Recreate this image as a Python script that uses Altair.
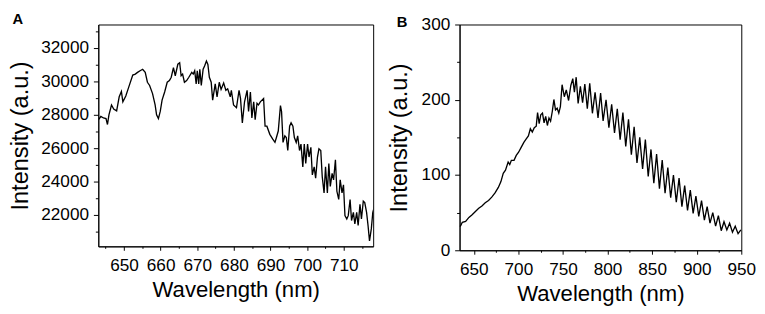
import altair as alt
import pandas as pd

# ---------------- Panel A data ----------------
a_wl = [643.05, 643.7, 644.4, 645.1, 645.5, 645.9, 646.6, 647.2, 648.0, 648.7, 649.3, 649.7,
        650.5, 651.3, 652.4, 653.1, 653.7, 654.4, 655.1, 655.8, 656.4, 657.0, 657.8, 658.5,
        658.9, 659.4, 659.9, 660.4, 661.1, 661.8, 662.4, 662.9, 663.5, 664.0, 664.7, 665.2,
        665.6, 666.0, 666.5, 667.1, 667.7, 668.5, 668.9, 669.3, 669.7, 670.0, 670.4, 670.7,
        671.1, 671.6, 672.0, 672.5, 672.9, 673.3, 673.8, 674.2, 674.9, 675.4, 676.0, 676.5,
        677.2, 677.8, 678.3, 679.0, 679.3, 679.9, 680.7, 681.4, 681.8, 682.3, 682.9, 683.6,
        684.0, 684.5, 684.9, 685.4, 685.8, 686.3, 686.7, 687.2, 688.1, 688.5, 689.0, 689.8,
        690.6, 691.2, 691.6, 692.1, 692.7, 693.0, 693.4, 693.9, 694.3, 694.7, 695.2, 695.6,
        696.1, 696.5, 697.0, 697.4, 697.9, 698.3, 698.8, 699.2, 699.6, 700.1, 700.5, 701.0,
        701.4, 701.9, 702.3, 702.8, 703.2, 703.7, 704.1, 704.6, 705.0, 705.5, 705.9, 706.3,
        706.8, 707.2, 707.7, 708.1, 708.6, 709.0, 709.5, 709.9, 710.3, 710.8, 711.2, 711.7,
        712.1, 712.6, 713.0, 713.5, 713.9, 714.4, 714.8, 715.3, 715.7, 716.2, 716.6, 717.0,
        717.5, 717.9, 718.4]
a_int = [27710, 27900, 27810, 27770, 27420, 28000, 28590, 28350, 28240, 29080, 29400, 28780,
         29130, 29660, 30380, 30440, 30540, 30640, 30730, 30540, 29950, 29760, 29270, 28590,
         28000, 27770, 28200, 28880, 29370, 29950, 30050, 30250, 30830, 30340, 31030, 31120,
         30340, 30440, 29950, 30050, 30250, 30540, 30440, 30640, 29850, 30640, 29850, 30730,
         29760, 30730, 30930, 31220, 31020, 30250, 29950, 28880, 29850, 29080, 29950, 29520,
         29910, 29470, 29560, 29080, 29470, 28590, 28430, 29470, 28980, 27520, 28780, 29470,
         28200, 29370, 27810, 28780, 27710, 28690, 28590, 28780, 28980, 27320, 27320, 26830,
         26540, 26350, 26640, 27030, 28550, 28200, 26350, 26740, 26640, 25860, 27320, 27520,
         27320, 26640, 26350, 26740, 25860, 26250, 24880, 26250, 25080, 26250, 25470, 26050,
         24400, 24880, 24200, 25470, 25960, 25860, 24300, 23320, 24880, 23320, 25080, 23710,
         24490, 24100, 25310, 23420, 22930, 24100, 23320, 23810, 21960, 21760, 21960, 22930,
         21670, 22160, 21470, 22160, 21370, 22640, 21760, 22830, 22740, 22160, 21370, 20440,
         21180, 22160, 22550]

# ---------------- Panel B data ----------------
b_wl = [634.2, 635.3, 637.1, 640.8, 644.5, 648.1, 651.8, 655.5, 659.1, 662.8, 666.5, 670.1,
        673.8, 677.5, 680.4, 683.0, 685.5, 688.5, 690.3, 692.1, 695.1, 697.6, 700.2, 703.1,
        706.1, 708.6, 711.2, 713.4, 715.6, 717.8, 720.0, 721.5, 723.3, 725.1, 727.0, 728.8,
        730.6, 732.5, 734.3, 736.1, 738.0, 739.8, 741.6, 743.5, 745.3,
        747.1, 749.0, 751.5, 753.7, 756.3, 758.8, 761.0, 762.8, 764.8, 767.0, 769.5, 772.0,
        774.5, 777.3, 780.0, 783.0, 786.0, 789.3, 792.2, 795.0,
        798.3, 801.5, 804.6, 807.8, 810.9, 814.1, 817.2, 820.4, 823.5, 826.7, 829.8, 833.0,
        836.1, 839.3, 842.4, 845.6, 848.7, 851.9, 855.0, 858.2, 861.3, 864.5, 867.6, 870.8,
        873.9, 877.1, 880.2, 883.4, 886.5, 889.7, 892.8, 896.0, 899.1, 902.3, 905.4, 908.6,
        911.7, 914.9, 918.0, 921.2, 924.3, 927.5, 930.6, 933.8, 936.9, 940.1, 943.2, 946.4,
        949.5]
b_int = [31.5, 32.9, 37.2, 38.5, 43.7, 47.2, 51.5, 55.8, 58.9, 63.2, 66.2, 70.6,
         76.2, 83.5, 91.3, 102.2, 106.5, 117.3, 113.9, 119.5, 119.5, 126.0, 130.3, 136.8,
         143.3, 147.6, 152.0, 161.5, 157.1, 162.8, 164.9, 183.1, 168.4, 180.1, 182.3, 169.3,
         177.9, 165.8, 175.8, 171.5, 184.4, 200.4, 186.6, 188.7, 182.3,
         191.0, 220.0, 204.0, 213.0, 199.0, 219.0, 228.0, 210.0, 230.0, 195.0, 218.0, 196.0,
         221.0, 188.0, 222.0, 182.0, 210.0, 176.0, 209.0, 172.0,
         200.0, 163.0, 194.0, 156.0, 188.0, 147.0, 183.0, 138.0, 174.0, 127.0, 164.0, 116.0,
         150.0, 108.0, 147.0, 98.0, 134.0, 89.0, 128.0, 82.0, 120.0, 76.0, 110.0, 70.0,
         100.0, 64.0, 96.0, 58.0, 86.0, 53.0, 80.0, 49.0, 72.0, 45.0, 66.0, 40.0,
         58.0, 36.0, 50.0, 32.0, 46.0, 26.0, 38.0, 27.0, 36.0, 24.0, 32.0, 22.0,
         27.0]

# ---------------- Axis ticks ----------------
a_x_major = [650, 660, 670, 680, 690, 700, 710]
a_x_minor = [645, 655, 665, 675, 685, 695, 705, 715]
a_y_major = [22000, 24000, 26000, 28000, 30000, 32000]
a_y_minor = [21000, 23000, 25000, 27000, 29000, 31000, 33000]
b_x_major = [650, 700, 750, 800, 850, 900, 950]
b_x_minor = [675, 725, 775, 825, 875, 925]
b_y_major = [0, 100, 200, 300]
b_y_minor = [50, 150, 250]

FONT = "Liberation Sans"
X_TITLE = "Wavelength (nm)"
Y_TITLE = "Intensity (a.u.)"


def panel(wl, inten, xdom, ydom, xmaj, xmin, ymaj, ymin, w, h, label, lx, ly, ytp):
    df = pd.DataFrame({"wl": wl, "val": inten})
    base = alt.Chart(df)
    xs = alt.Scale(domain=xdom, nice=False, zero=False)
    ys = alt.Scale(domain=ydom, nice=False, zero=False)
    main = base.mark_line(color="black", strokeWidth=1.35, clip=True).encode(
        x=alt.X("wl:Q", scale=xs,
                axis=alt.Axis(values=xmaj, title=X_TITLE, orient="bottom", tickSize=4,
                              labelPadding=7, titlePadding=5, titleFontSize=22.5,
                              labelFlush=False, labelOverlap=False)),
        y=alt.Y("val:Q", scale=ys,
                axis=alt.Axis(values=ymaj, title=Y_TITLE, orient="left", tickSize=5,
                              labelPadding=5, titlePadding=ytp, titleFontSize=24,
                              format="d", labelFlush=False, labelOverlap=False)),
    )
    minor = base.mark_line(opacity=0, clip=True).encode(
        x=alt.X("wl:Q", scale=xs,
                axis=alt.Axis(values=xmin, labels=False, title=None, orient="bottom",
                              tickSize=2, domain=False)),
        y=alt.Y("val:Q", scale=ys,
                axis=alt.Axis(values=ymin, labels=False, title=None, orient="left",
                              tickSize=3, domain=False)),
    )
    txt = alt.Chart(pd.DataFrame({"t": [label]})).mark_text(
        font=FONT, fontSize=15, fontWeight="bold", align="left", baseline="top",
        color="black"
    ).encode(x=alt.value(lx), y=alt.value(ly), text="t:N")
    return alt.layer(main, minor, txt).resolve_axis(
        x="independent", y="independent"
    ).properties(width=w, height=h)


pA = panel(a_wl, a_int, [643, 718], [20120, 33410], a_x_major, a_x_minor,
           a_y_major, a_y_minor, 280, 226, "A", -87.5, -13, 8)
pB = panel(b_wl, b_int, [634, 950], [0, 300], b_x_major, b_x_minor,
           b_y_major, b_y_minor, 287, 230, "B", -64, -9, 10)

chart = alt.hconcat(pA, pB, spacing=13).properties(
    padding={"left": 0, "top": 0, "right": 0, "bottom": 0}
).configure_view(
    stroke="black", strokeWidth=1
).configure_axis(
    labelFont=FONT, titleFont=FONT, labelFontSize=17.5, labelColor="black",
    titleColor="black", titleFontWeight="normal", tickColor="black",
    domainColor="black", grid=False, tickWidth=1
)

chart.save("out.html", embed_options={"renderer": "svg", "actions": False})
